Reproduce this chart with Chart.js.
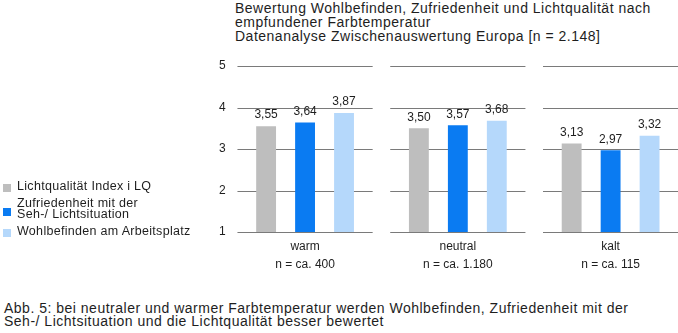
<!DOCTYPE html>
<html>
<head>
<meta charset="utf-8">
<script src="https://cdn.jsdelivr.net/npm/chart.js@4/dist/chart.umd.min.js"></script>
<style>
  html, body { margin: 0; padding: 0; background: #fff; overflow: hidden; width: 678px; height: 333px; }
  body { position: relative; font-family: "Liberation Sans", Arial, sans-serif; color: #1e1e1e; }
  #wrap { position: absolute; left: 0; top: 0; width: 700px; height: 290px; }
  #title { position: absolute; left: 235px; top: 1px; font-size: 14px; line-height: 14px; letter-spacing: 0.5px; white-space: nowrap; }
  #legend { position: absolute; left: 3px; top: 181px; font-size: 12.5px; line-height: 11.5px; letter-spacing: 0.3px; }
  #legend div { position: relative; padding-left: 14px; margin-bottom: 5px; white-space: nowrap; }
  #legend span { position: absolute; left: 0; width: 8px; height: 8px; }
  #footer { position: absolute; left: 4px; top: 302px; font-size: 14px; line-height: 12.5px; letter-spacing: 0.5px; white-space: nowrap; }
</style>
</head>
<body>
<div id="title">Bewertung Wohlbefinden, Zufriedenheit und Lichtqualität nach<br>empfundener Farbtemperatur<br>Datenanalyse Zwischenauswertung Europa [n = 2.148]</div>
<div id="wrap"><canvas id="chart" width="700" height="290"></canvas></div>
<div id="legend"></div>
<div id="footer">Abb. 5: bei neutraler und warmer Farbtemperatur werden Wohlbefinden, Zufriedenheit mit der<br>Seh-/ Lichtsituation und die Lichtqualität besser bewertet</div>

<script>
var categories = ['warm', 'neutral', 'kalt'];
var sampleSizes = ['n = ca. 400', 'n = ca. 1.180', 'n = ca. 115'];
var seriesNames = [['Lichtqualität Index i LQ'], ['Zufriedenheit mit der', 'Seh-/ Lichtsituation'], ['Wohlbefinden am Arbeitsplatz']];
var lichtqualitaet = [3.55, 3.50, 3.13];
var zufriedenheit = [3.64, 3.57, 2.97];
var wohlbefinden = [3.87, 3.68, 3.32];
var colors = ['#bebebe', '#0a7bf2', '#b5d8fb'];

// segmented grid lines, one piece per category
var segmentGrid = {
    id: 'segmentGrid',
    beforeDatasetsDraw: function(chart){
        var ctx = chart.ctx, x = chart.scales.x, y = chart.scales.y;
        var half = (x.width / categories.length) * 0.885 / 2;
        ctx.save();
        ctx.strokeStyle = '#7a7a7a';
        ctx.lineWidth = 1;
        y.ticks.forEach(function(t){
            var py = Math.round(y.getPixelForValue(t.value)) + 0.5;
            categories.forEach(function(c, i){
                var cx = x.getPixelForValue(i);
                ctx.beginPath();
                ctx.moveTo(cx - half, py);
                ctx.lineTo(cx + half, py);
                ctx.stroke();
            });
        });
        ctx.restore();
    }
};

var valueLabels = {
    id: 'valueLabels',
    afterDatasetsDraw: function(chart){
        var ctx = chart.ctx;
        ctx.save();
        ctx.font = '12px "Liberation Sans", Arial, sans-serif';
        ctx.fillStyle = '#1e1e1e';
        ctx.textAlign = 'center';
        ctx.textBaseline = 'bottom';
        chart.data.datasets.forEach(function(ds, di){
            chart.getDatasetMeta(di).data.forEach(function(bar, i){
                ctx.fillText(ds.data[i].toFixed(2).replace('.', ','), bar.x, bar.y - 5);
            });
        });
        ctx.restore();
    }
};

var ctx = document.getElementById('chart');
var myChart = new Chart(ctx, {
    type: 'bar',
    data: {
        labels: categories.map(function(c, i){ return [c, sampleSizes[i]]; }),
        datasets: [
            { label: seriesNames[0].join(' '), data: lichtqualitaet, backgroundColor: colors[0] },
            { label: seriesNames[1].join(' '), data: zufriedenheit, backgroundColor: colors[1] },
            { label: seriesNames[2].join(' '), data: wohlbefinden, backgroundColor: colors[2] }
        ]
    },
    options: {
        responsive: false,
        animation: false,
        devicePixelRatio: 1,
        categoryPercentage: 0.765,
        barPercentage: 0.51,
        layout: { padding: { left: 216, right: 13, top: 66, bottom: 10 } },
        plugins: { legend: { display: false }, tooltip: { enabled: false } },
        scales: {
            x: {
                grid: { display: false, drawTicks: false },
                border: { display: false },
                ticks: {
                    color: '#1e1e1e',
                    padding: 6,
                    font: { family: '"Liberation Sans", Arial, sans-serif', size: 12, lineHeight: 1.5 }
                }
            },
            y: {
                min: 1,
                max: 5,
                grid: { display: false, drawTicks: false },
                border: { display: false },
                ticks: {
                    stepSize: 1,
                    color: '#1e1e1e',
                    padding: 3,
                    font: { family: '"Liberation Sans", Arial, sans-serif', size: 12 }
                }
            }
        }
    },
    plugins: [segmentGrid, valueLabels]
});

// legend
var legend = document.getElementById('legend');
seriesNames.forEach(function(name, i){
    var item = document.createElement('div');
    var box = document.createElement('span');
    box.style.background = colors[i];
    box.style.top = (name.length > 1 ? 10 : 3) + 'px';
    item.appendChild(box);
    item.appendChild(document.createTextNode(''));
    item.innerHTML += name.join('<br>');
    legend.appendChild(item);
});
</script>
</body>
</html>
